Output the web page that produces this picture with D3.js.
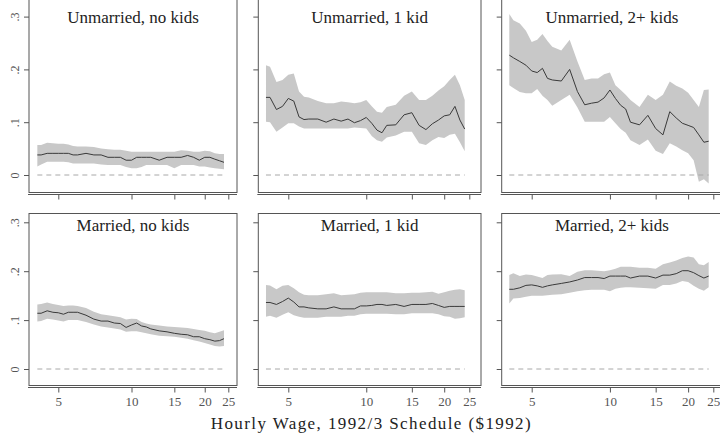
<!DOCTYPE html>
<html><head><meta charset="utf-8">
<script src="https://cdn.jsdelivr.net/npm/d3@7"></script>
<style>body{margin:0;background:#fff}svg{display:block}
.sf{font-family:"Liberation Serif","DejaVu Serif",serif}</style>
</head><body>
<script>
const wages = [4.1,4.25,4.5,4.75,5,5.25,5.5,5.75,6,6.5,7,7.5,8,8.5,9,9.5,10,10.5,11,11.5,12,13,14,15,16,17,18,19,20,21,22,23,24];
const panelTitles = ["Unmarried, no kids","Unmarried, 1 kid","Unmarried, 2+ kids","Married, no kids","Married, 1 kid","Married, 2+ kids"];
const xTicks = [5,10,15,20,25];
const yTicks = [0,0.1,0.2,0.3];
const xTitle = "Hourly Wage, 1992/3 Schedule ($1992)";

const u0Est = [0.038,0.038,0.041,0.041,0.041,0.041,0.041,0.038,0.038,0.041,0.038,0.038,0.0335,0.0335,0.0335,0.028,0.028,0.0335,0.0335,0.0335,0.0335,0.028,0.0335,0.0335,0.0335,0.037,0.0335,0.028,0.0335,0.0335,0.030,0.027,0.024];
const u0Hi = [0.057,0.057,0.061,0.060,0.059,0.059,0.058,0.055,0.054,0.054,0.053,0.050,0.049,0.048,0.048,0.046,0.044,0.044,0.044,0.044,0.044,0.044,0.044,0.044,0.047,0.046,0.044,0.044,0.046,0.045,0.041,0.040,0.040];
const u0Lo = [0.016,0.020,0.025,0.025,0.025,0.025,0.024,0.022,0.022,0.022,0.022,0.020,0.019,0.019,0.019,0.015,0.013,0.013,0.015,0.019,0.019,0.019,0.019,0.013,0.019,0.019,0.019,0.016,0.016,0.014,0.013,0.012,0.011];

const u1Est = [0.147,0.147,0.124,0.130,0.145,0.140,0.110,0.105,0.106,0.106,0.100,0.106,0.102,0.106,0.099,0.103,0.109,0.098,0.085,0.080,0.094,0.095,0.114,0.118,0.094,0.086,0.097,0.104,0.112,0.114,0.130,0.104,0.087];
const u1Hi = [0.208,0.205,0.176,0.180,0.190,0.192,0.158,0.148,0.147,0.140,0.136,0.136,0.139,0.138,0.136,0.138,0.142,0.130,0.120,0.118,0.129,0.133,0.150,0.158,0.142,0.142,0.150,0.160,0.168,0.180,0.190,0.170,0.142];
const u1Lo = [0.101,0.100,0.082,0.090,0.098,0.098,0.092,0.088,0.088,0.088,0.088,0.088,0.088,0.088,0.090,0.089,0.088,0.074,0.066,0.063,0.071,0.075,0.082,0.082,0.060,0.057,0.066,0.072,0.070,0.076,0.078,0.062,0.045];

const u2Est = [0.227,0.222,0.215,0.208,0.197,0.194,0.202,0.183,0.180,0.178,0.200,0.158,0.133,0.136,0.138,0.146,0.161,0.145,0.132,0.125,0.100,0.095,0.113,0.088,0.076,0.120,0.108,0.098,0.094,0.090,0.076,0.062,0.064];
const u2Hi = [0.305,0.293,0.287,0.273,0.252,0.256,0.267,0.254,0.243,0.236,0.256,0.215,0.180,0.183,0.183,0.191,0.194,0.170,0.161,0.152,0.142,0.129,0.152,0.142,0.152,0.177,0.169,0.164,0.156,0.142,0.129,0.161,0.162];
const u2Lo = [0.170,0.165,0.157,0.155,0.155,0.163,0.150,0.142,0.131,0.142,0.152,0.128,0.101,0.101,0.101,0.101,0.110,0.098,0.087,0.080,0.066,0.057,0.067,0.046,0.040,0.060,0.054,0.047,0.041,0.028,-0.013,-0.008,-0.016];

const m0Est = [0.114,0.114,0.119,0.116,0.115,0.112,0.116,0.116,0.116,0.110,0.102,0.098,0.098,0.094,0.093,0.085,0.090,0.094,0.088,0.086,0.082,0.078,0.076,0.073,0.071,0.070,0.066,0.066,0.062,0.060,0.057,0.058,0.062];
const m0Hi = [0.132,0.133,0.136,0.133,0.131,0.129,0.130,0.130,0.129,0.125,0.117,0.112,0.110,0.108,0.106,0.101,0.103,0.102,0.096,0.093,0.091,0.089,0.087,0.086,0.085,0.084,0.082,0.080,0.078,0.075,0.073,0.076,0.079];
const m0Lo = [0.097,0.098,0.103,0.101,0.099,0.097,0.100,0.100,0.100,0.096,0.091,0.087,0.085,0.083,0.081,0.076,0.077,0.077,0.075,0.073,0.071,0.068,0.067,0.066,0.064,0.062,0.059,0.056,0.053,0.050,0.047,0.046,0.047];

const m1Est = [0.136,0.136,0.132,0.138,0.145,0.137,0.127,0.127,0.125,0.123,0.123,0.127,0.123,0.123,0.123,0.129,0.129,0.130,0.132,0.132,0.130,0.132,0.128,0.132,0.132,0.132,0.134,0.130,0.126,0.128,0.128,0.128,0.128];
const m1Hi = [0.172,0.171,0.163,0.170,0.172,0.165,0.157,0.152,0.151,0.151,0.153,0.155,0.151,0.152,0.153,0.156,0.157,0.157,0.157,0.157,0.157,0.155,0.155,0.156,0.156,0.157,0.158,0.154,0.157,0.160,0.162,0.163,0.161];
const m1Lo = [0.107,0.109,0.105,0.111,0.116,0.110,0.107,0.105,0.105,0.105,0.107,0.107,0.107,0.109,0.109,0.112,0.113,0.113,0.113,0.113,0.113,0.112,0.112,0.114,0.114,0.114,0.114,0.112,0.108,0.107,0.103,0.104,0.106];

const m2Est = [0.163,0.163,0.166,0.171,0.172,0.170,0.167,0.170,0.172,0.175,0.178,0.182,0.187,0.187,0.187,0.185,0.190,0.190,0.190,0.190,0.186,0.190,0.190,0.186,0.192,0.192,0.195,0.201,0.201,0.197,0.191,0.186,0.190];
const m2Hi = [0.192,0.196,0.190,0.193,0.192,0.189,0.186,0.192,0.193,0.194,0.190,0.199,0.202,0.202,0.201,0.200,0.202,0.205,0.209,0.209,0.209,0.207,0.207,0.205,0.214,0.218,0.222,0.227,0.230,0.228,0.214,0.212,0.219];
const m2Lo = [0.134,0.144,0.145,0.148,0.150,0.150,0.150,0.151,0.152,0.153,0.156,0.159,0.161,0.162,0.162,0.162,0.159,0.164,0.166,0.167,0.167,0.166,0.165,0.164,0.172,0.172,0.175,0.180,0.178,0.170,0.164,0.160,0.167];

const panelSeries = [
  [u0Est,u0Lo,u0Hi],[u1Est,u1Lo,u1Hi],[u2Est,u2Lo,u2Hi],
  [m0Est,m0Lo,m0Hi],[m1Est,m1Lo,m1Hi],[m2Est,m2Lo,m2Hi]
];

// layout
const cols = [
  {x0:29, x1:237, p5:58.3, p25:228.3},
  {x0:258.3, x1:481, p5:288.3, p25:469.3},
  {x0:501.7, x1:725, p5:531.7, p25:713.3}
];
const rows = [
  {top:-2, bottom:192.5, yZero:175, yTop:16.6, titleY:23},
  {top:213.5, bottom:385.5, yZero:369, yTop:222.3, titleY:230.5}
];

const svg = d3.select("body").append("svg").attr("width",720).attr("height",435);

const yFmt = d => d === 0 ? "0" : d3.format(".1f")(d).replace(/^0/,"");

panelSeries.forEach((ser,i)=>{
  const c = cols[i%3], r = rows[Math.floor(i/3)];
  const x = d3.scaleLog().domain([5,25]).range([c.p5,c.p25]);
  const y = d3.scaleLinear().domain([0,0.3]).range([r.yZero,r.yTop]);
  const [est,lo,hi] = ser;
  const data = wages.map((w,k)=>({w, e:est[k], l:lo[k], h:hi[k]}));
  const g = svg.append("g");

  g.append("path").datum(data)
    .attr("d", d3.area().x(d=>x(d.w)).y0(d=>y(d.l)).y1(d=>y(d.h)))
    .attr("fill","#c8c8c8");

  g.append("line")
    .attr("x1",x(wages[0])).attr("x2",x(wages[wages.length-1]))
    .attr("y1",y(0)).attr("y2",y(0))
    .attr("stroke","#a8a8a8").attr("stroke-width",1).attr("stroke-dasharray","5,4");

  g.append("path").datum(data)
    .attr("d", d3.line().x(d=>x(d.w)).y(d=>y(d.e)))
    .attr("fill","none").attr("stroke","#3a3a3a").attr("stroke-width",1);

  // box
  g.append("rect").attr("x",c.x0).attr("y",r.top)
    .attr("width",c.x1-c.x0).attr("height",r.bottom-r.top)
    .attr("fill","none").attr("stroke","#555").attr("stroke-width",1);

  // x axis
  g.append("line").attr("x1",c.x0-1).attr("x2",c.x1).attr("y1",r.bottom+2).attr("y2",r.bottom+2)
    .attr("stroke","#555").attr("stroke-width",1);
  const xa = g.append("g").attr("transform",`translate(0,${r.bottom+2})`)
    .call(d3.axisBottom(x).tickValues(xTicks).tickSize(5).tickPadding(4)
      .tickFormat(i>=3 ? d3.format("d") : ""));
  xa.attr("font-family",null);
  xa.select(".domain").remove();
  xa.selectAll("line").attr("stroke","#555");
  xa.selectAll("text").attr("class","sf").style("font-size","13px").attr("fill","#555");

  // y axis
  const ya = g.append("g").attr("transform",`translate(${c.x0},0)`)
    .call(d3.axisLeft(y).tickValues(yTicks).tickSize(5)
      .tickFormat(i%3===0 ? yFmt : ""));
  ya.attr("font-family",null);
  ya.select(".domain").remove();
  ya.selectAll("line").attr("stroke","#555");
  ya.selectAll("text").attr("transform","rotate(-90)")
    .attr("x",0).attr("y",-10).attr("dy",0).attr("text-anchor","middle")
    .attr("class","sf").style("font-size","12px").attr("fill","#555");

  // title
  g.append("text").attr("class","sf").attr("x",(c.x0+c.x1)/2 - (i%3===2 ? 1.5 : 0)).attr("y",r.titleY)
    .attr("text-anchor","middle").style("font-size","17px")
    .attr("fill","#222").text(panelTitles[i]);
});

svg.append("text").attr("class","sf").attr("x",370.7).attr("y",429).attr("text-anchor","middle")
  .style("font-size","17px").attr("fill","#222")
  .attr("textLength",320).attr("lengthAdjust","spacing").text(xTitle);
</script>
</body></html>
